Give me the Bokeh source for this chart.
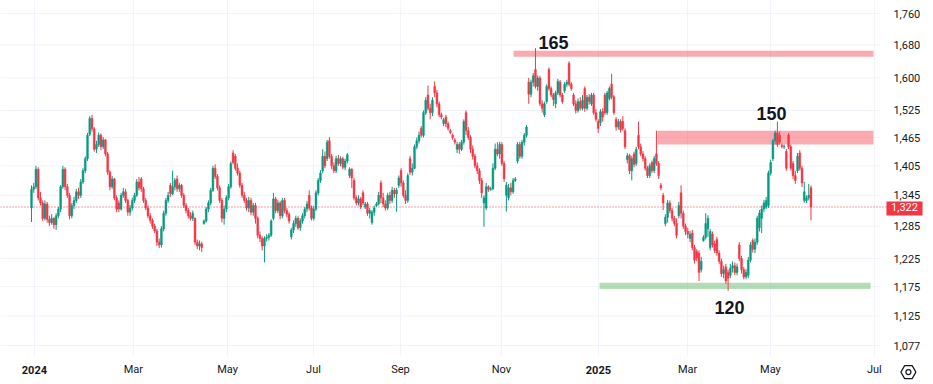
from bokeh.plotting import figure
from bokeh.models import Range1d, ColumnDataSource
from bokeh.core.properties import value
from bokeh.embed import file_html
from bokeh.resources import INLINE

# ---------------- data ----------------
opens = [1320,1357,1362,1398,1340,1330,1300,1328,1298,1292,
 1300,1288,1305,1318,1362,1398,1362,1345,1305,1325,
 1335,1352,1345,1372,1395,1420,1472,1507,1484,1440,
 1450,1470,1445,1460,1430,1392,1362,1378,1340,1330,
 1318,1345,1352,1335,1312,1320,1335,1345,1372,1378,
 1358,1335,1320,1305,1296,1285,1276,1255,1250,1280,
 1310,1335,1365,1348,1362,1378,1358,1365,1345,1325,
 1315,1305,1300,1300,1255,1248,1252,1290,1295,1318,
 1330,1355,1400,1383,1360,1335,1300,1318,1340,1362,
 1432,1425,1400,1390,1365,1345,1335,1320,1335,1312,
 1325,1300,1268,1262,1248,1262,1264,1268,1300,1338,
 1315,1330,1305,1335,1315,1308,1265,1278,1290,1300,
 1282,1295,1305,1318,1345,1320,1300,1318,1350,1375,
 1395,1425,1420,1458,1425,1405,1395,1420,1410,1420,
 1402,1415,1385,1398,1375,1340,1330,1338,1350,1322,
 1328,1310,1292,1312,1325,1328,1370,1340,1328,1320,
 1345,1335,1355,1348,1365,1395,1370,1345,1335,1420,
 1392,1400,1445,1458,1485,1470,1520,1560,1530,1520,
 1580,1565,1540,1515,1496,1510,1495,1480,1470,1460,
 1440,1450,1440,1455,1520,1480,1465,1440,1425,1405,
 1395,1375,1330,1320,1362,1357,1358,1400,1440,1430,
 1450,1410,1345,1340,1360,1352,1375,1415,1450,1425,
 1455,1470,1590,1562,1590,1620,1580,1600,1540,1515,
 1545,1620,1575,1560,1540,1565,1590,1560,1570,1585,
 1635,1585,1560,1540,1525,1545,1530,1575,1530,1555,
 1540,1560,1520,1500,1498,1522,1560,1520,1552,1585,
 1556,1505,1488,1500,1500,1480,1418,1426,1395,1430,
 1410,1470,1445,1430,1420,1400,1385,1412,1395,1430,
 1410,1365,1345,1290,1302,1330,1315,1300,1290,1305,
 1350,1310,1285,1275,1262,1272,1245,1238,1235,1205,
 1258,1264,1280,1245,1270,1252,1260,1235,1220,1198,
 1210,1200,1195,1208,1212,1200,1250,1225,1205,1192,
 1195,1222,1258,1242,1255,1282,1300,1318,1322,1325,
 1390,1420,1458,1475,1470,1448,1445,1435,1470,1445,
 1410,1385,1395,1432,1400,1335,1335,1340,1360]

closes = [1357,1362,1398,1340,1330,1300,1328,1298,1292,1300,
 1288,1305,1318,1362,1398,1362,1345,1305,1325,1335,
 1352,1345,1372,1395,1420,1470,1507,1484,1440,1450,
 1470,1445,1460,1430,1392,1362,1378,1340,1318,1318,
 1345,1352,1335,1312,1320,1335,1345,1372,1360,1358,
 1335,1320,1305,1296,1285,1276,1255,1250,1280,1310,
 1335,1345,1348,1362,1375,1358,1365,1345,1325,1315,
 1305,1300,1310,1255,1248,1252,1245,1295,1318,1330,
 1355,1400,1383,1360,1335,1300,1318,1340,1362,1410,
 1412,1400,1390,1365,1345,1335,1320,1335,1312,1325,
 1300,1268,1262,1248,1262,1264,1268,1295,1338,1315,
 1330,1305,1335,1315,1308,1295,1278,1290,1300,1282,
 1295,1305,1318,1328,1320,1300,1318,1350,1375,1390,
 1425,1405,1455,1425,1405,1395,1420,1410,1420,1402,
 1415,1428,1398,1380,1340,1330,1338,1322,1330,1328,
 1310,1315,1312,1320,1328,1345,1340,1328,1320,1345,
 1335,1355,1348,1355,1380,1370,1345,1335,1385,1392,
 1400,1445,1458,1470,1470,1520,1548,1530,1520,1548,
 1565,1540,1515,1510,1504,1495,1485,1476,1465,1455,
 1450,1440,1455,1500,1480,1465,1440,1425,1405,1395,
 1375,1350,1340,1362,1357,1358,1400,1440,1430,1450,
 1410,1378,1365,1360,1352,1375,1378,1450,1425,1455,
 1470,1488,1562,1590,1605,1580,1600,1540,1530,1540,
 1580,1575,1560,1550,1565,1592,1560,1545,1585,1590,
 1585,1575,1540,1525,1545,1530,1548,1530,1555,1545,
 1560,1520,1505,1485,1522,1510,1520,1565,1575,1556,
 1520,1488,1500,1482,1485,1445,1426,1395,1420,1408,
 1440,1445,1430,1420,1400,1385,1405,1395,1420,1410,
 1385,1360,1330,1302,1330,1315,1300,1290,1268,1325,
 1310,1285,1275,1270,1270,1245,1222,1226,1200,1220,
 1264,1290,1300,1275,1250,1240,1235,1220,1198,1205,
 1185,1190,1208,1212,1200,1210,1225,1205,1192,1200,
 1222,1250,1242,1255,1300,1310,1318,1330,1335,1390,
 1412,1458,1475,1450,1455,1446,1446,1400,1445,1400,
 1385,1375,1425,1400,1370,1352,1340,1345,1322]

highs = [1365,1370,1405,1402,1352,1335,1335,1332,1305,1308,
 1302,1310,1322,1366,1405,1402,1368,1350,1330,1342,
 1358,1360,1378,1400,1425,1475,1512,1515,1488,1458,
 1476,1474,1466,1462,1434,1396,1384,1380,1345,1335,
 1350,1360,1358,1338,1326,1340,1350,1378,1382,1382,
 1362,1340,1325,1310,1300,1290,1280,1262,1285,1315,
 1340,1352,1370,1395,1380,1385,1370,1368,1350,1330,
 1320,1312,1315,1302,1260,1258,1256,1298,1322,1335,
 1360,1405,1408,1388,1365,1340,1325,1345,1368,1414,
 1438,1430,1410,1395,1370,1352,1340,1342,1340,1330,
 1330,1304,1275,1266,1266,1270,1272,1298,1350,1342,
 1336,1334,1340,1340,1320,1312,1282,1296,1305,1304,
 1300,1310,1322,1334,1355,1325,1324,1355,1380,1396,
 1440,1435,1460,1466,1430,1412,1426,1428,1425,1424,
 1420,1432,1402,1400,1380,1345,1345,1342,1355,1332,
 1332,1320,1316,1325,1332,1352,1375,1350,1335,1350,
 1352,1362,1360,1360,1385,1400,1375,1355,1390,1426,
 1410,1450,1465,1478,1490,1525,1555,1582,1540,1555,
 1592,1572,1545,1520,1508,1515,1500,1484,1474,1464,
 1456,1455,1460,1505,1525,1488,1470,1448,1430,1412,
 1400,1380,1345,1370,1365,1362,1410,1452,1455,1456,
 1455,1415,1372,1368,1370,1380,1382,1455,1456,1460,
 1475,1492,1600,1596,1612,1672,1606,1605,1548,1545,
 1585,1625,1580,1565,1570,1598,1595,1565,1590,1596,
 1640,1590,1565,1548,1552,1555,1560,1580,1560,1562,
 1565,1565,1528,1505,1528,1530,1565,1570,1580,1610,
 1560,1510,1506,1505,1512,1485,1432,1430,1426,1435,
 1445,1500,1452,1436,1425,1405,1410,1416,1426,1480,
 1415,1370,1350,1308,1336,1335,1320,1305,1300,1332,
 1365,1315,1290,1282,1276,1278,1250,1242,1240,1228,
 1268,1310,1306,1280,1275,1258,1265,1240,1225,1212,
 1215,1205,1215,1220,1218,1216,1255,1230,1210,1206,
 1228,1255,1262,1262,1305,1316,1325,1336,1342,1395,
 1418,1462,1480,1500,1478,1452,1450,1440,1475,1450,
 1415,1395,1432,1438,1405,1372,1345,1368,1365]

lows = [1293,1350,1358,1335,1325,1295,1296,1292,1285,1288,
 1280,1278,1300,1312,1358,1355,1340,1298,1300,1318,
 1330,1338,1340,1368,1390,1415,1468,1478,1435,1432,
 1445,1438,1440,1425,1386,1355,1358,1335,1312,1312,
 1315,1340,1330,1305,1305,1315,1330,1342,1355,1352,
 1330,1316,1300,1290,1280,1272,1248,1244,1245,1275,
 1305,1330,1342,1345,1355,1352,1352,1340,1320,1310,
 1300,1296,1295,1250,1242,1240,1237,1288,1292,1312,
 1325,1352,1378,1355,1330,1292,1288,1312,1335,1358,
 1408,1395,1385,1360,1340,1330,1315,1312,1306,1305,
 1290,1262,1255,1240,1218,1256,1258,1265,1296,1310,
 1310,1298,1300,1310,1302,1290,1260,1272,1284,1278,
 1276,1290,1300,1312,1315,1296,1296,1314,1345,1370,
 1390,1400,1415,1420,1398,1390,1390,1405,1404,1398,
 1396,1410,1380,1360,1335,1325,1325,1318,1326,1318,
 1305,1300,1288,1305,1322,1325,1330,1322,1315,1316,
 1328,1330,1340,1313,1360,1362,1340,1328,1330,1386,
 1385,1398,1440,1452,1465,1465,1515,1525,1505,1512,
 1555,1532,1510,1505,1490,1488,1480,1472,1460,1450,
 1432,1430,1436,1450,1470,1460,1432,1418,1400,1388,
 1368,1340,1284,1316,1352,1354,1355,1396,1425,1420,
 1405,1372,1313,1335,1345,1348,1372,1410,1420,1420,
 1448,1465,1540,1555,1580,1575,1570,1535,1520,1510,
 1540,1570,1555,1535,1530,1560,1555,1540,1565,1578,
 1580,1570,1535,1518,1520,1525,1525,1522,1525,1538,
 1535,1515,1500,1475,1490,1500,1515,1515,1548,1550,
 1515,1480,1482,1476,1480,1440,1410,1388,1375,1402,
 1405,1440,1425,1414,1395,1380,1380,1390,1390,1405,
 1378,1355,1316,1285,1292,1310,1294,1285,1262,1300,
 1300,1280,1268,1262,1255,1240,1216,1220,1185,1200,
 1256,1260,1265,1240,1245,1235,1230,1215,1192,1190,
 1180,1168,1190,1200,1195,1195,1220,1198,1188,1188,
 1190,1218,1236,1235,1250,1275,1272,1312,1318,1320,
 1385,1415,1450,1445,1450,1442,1440,1395,1440,1395,
 1378,1368,1390,1395,1362,1330,1330,1335,1296]

# month ticks (bar index where each month starts) and their labels
month_ticks = [1.3, 45.5, 87.5, 125.9, 164.7, 209.8, 253.1, 292.9, 329.9, 376.3]
month_labels = ["2024", "Mar", "May", "Jul", "Sep", "Nov", "2025", "Mar", "May", "Jul"]
year_labels = ["2024", "2025"]

price_ticks = [1077, 1125, 1175, 1225, 1285, 1345, 1405, 1465, 1525, 1600, 1680, 1760]

# support / resistance zones
zone_bottom = [1651, 1450, 1171]
zone_top = [1666, 1480, 1182]
zone_start = [215.2, 279.5, 253.6]
zone_end = [375.9, 375.9, 374.6]
zone_color = ["#f23645", "#f23645", "#4caf50"]

# level annotations
level_text = ["165", "150", "120"]
level_x = [233.0, 330.4, 311.6]
level_y = [1686, 1517, 1140]

last_price = 1322

UP = "#089981"
DOWN = "#f23645"
TXT = "#131722"
GRID = "#f0f3fa"

# ---------------- layout constants (screen mapping) ----------------
X0, X1 = -13.84, 402.7          # full canvas in bar units
Y0, Y1 = 1016.8, 1794.2         # full canvas in price units (log)
PLOT_RIGHT = 379.0              # right edge of the price area
PLOT_BOTTOM = 1061.3            # bottom edge of the price area
AXIS_LABEL_X = 384.8            # price labels column
AXIS_LABEL_Y = 1039.5           # time labels row

# ---------------- figure ----------------
n = len(closes)
idx = list(range(n))
colors = [UP if c >= o else DOWN for o, c in zip(opens, closes)]
src = ColumnDataSource(dict(
    x=idx,
    top=[max(o, c) for o, c in zip(opens, closes)],
    bottom=[min(o, c) for o, c in zip(opens, closes)],
    high=[max(h, o, c) for h, o, c in zip(highs, opens, closes)],
    low=[min(l, o, c) for l, o, c in zip(lows, opens, closes)],
    color=colors,
))

p = figure(width=933, height=384, y_axis_type="log",
           x_range=Range1d(X0, X1), y_range=Range1d(Y0, Y1),
           output_backend="svg", toolbar_location=None,
           x_axis_location=None, y_axis_location=None,
           min_border=0)
p.outline_line_color = None
p.background_fill_color = "white"
p.border_fill_color = "white"
p.grid.visible = False

# grid lines
p.segment(x0=[X0] * len(price_ticks), x1=[PLOT_RIGHT] * len(price_ticks),
          y0=price_ticks, y1=price_ticks, line_color=GRID, line_width=1)
p.segment(x0=month_ticks, x1=month_ticks, y0=[PLOT_BOTTOM] * len(month_ticks),
          y1=[Y1] * len(month_ticks), line_color=GRID, line_width=1)

# zones
p.quad(left=zone_start, right=zone_end, bottom=zone_bottom, top=zone_top,
       fill_color=zone_color, fill_alpha=0.42, line_color=None)

# last price dotted line
p.line(x=[X0, 381.7], y=[last_price, last_price], line_color=DOWN,
       line_dash="1 2", line_width=1)

# candles
p.segment(x0="x", x1="x", y0="low", y1="high", color="color", line_width=1, source=src)
p.vbar(x="x", width=0.8, top="top", bottom="bottom", fill_color="color",
       line_color="color", line_width=0.5, source=src)

# level labels
p.text(x=level_x, y=level_y, text=level_text, text_align="center", text_baseline="middle",
       text_font=value("Liberation Sans"), text_font_style="bold",
       text_font_size="18px", text_color=TXT)

# price axis labels
p.text(x=[AXIS_LABEL_X] * len(price_ticks), y=price_ticks,
       text=[f"{t:,}" for t in price_ticks], text_align="left", text_baseline="middle",
       text_font=value("Roboto"), text_font_size="11px", text_color=TXT)

# time axis labels
m_x = [t for t, l in zip(month_ticks, month_labels) if l not in year_labels]
m_t = [l for l in month_labels if l not in year_labels]
y_x = [t for t, l in zip(month_ticks, month_labels) if l in year_labels]
y_t = [l for l in month_labels if l in year_labels]
p.text(x=m_x, y=[AXIS_LABEL_Y] * len(m_x), text=m_t, text_align="center",
       text_baseline="middle", text_font=value("Roboto"), text_font_size="11px",
       text_color=TXT)
p.text(x=y_x, y=[AXIS_LABEL_Y] * len(y_x), text=y_t, text_align="center",
       text_baseline="middle", text_font=value("Roboto"), text_font_style="bold",
       text_font_size="11px", text_color=TXT)

# last price tag
p.quad(left=[381.7], right=[397.8], bottom=[1305.4], top=[1332.7],
       fill_color=DOWN, line_color=None)
p.text(x=[389.75], y=[last_price], text=[f"{last_price:,}"], text_align="center",
       text_baseline="middle", text_font=value("Roboto"), text_font_size="11px",
       text_color="white")

# settings icon
p.scatter(x=[391.5], y=[1035.6], marker="hex", size=15, fill_color=None,
          line_color=TXT, line_width=1.2)
p.scatter(x=[391.5], y=[1035.6], marker="circle", size=5, fill_color=None,
          line_color=TXT, line_width=1.2)

open("out.html", "w").write(file_html(p, INLINE))
